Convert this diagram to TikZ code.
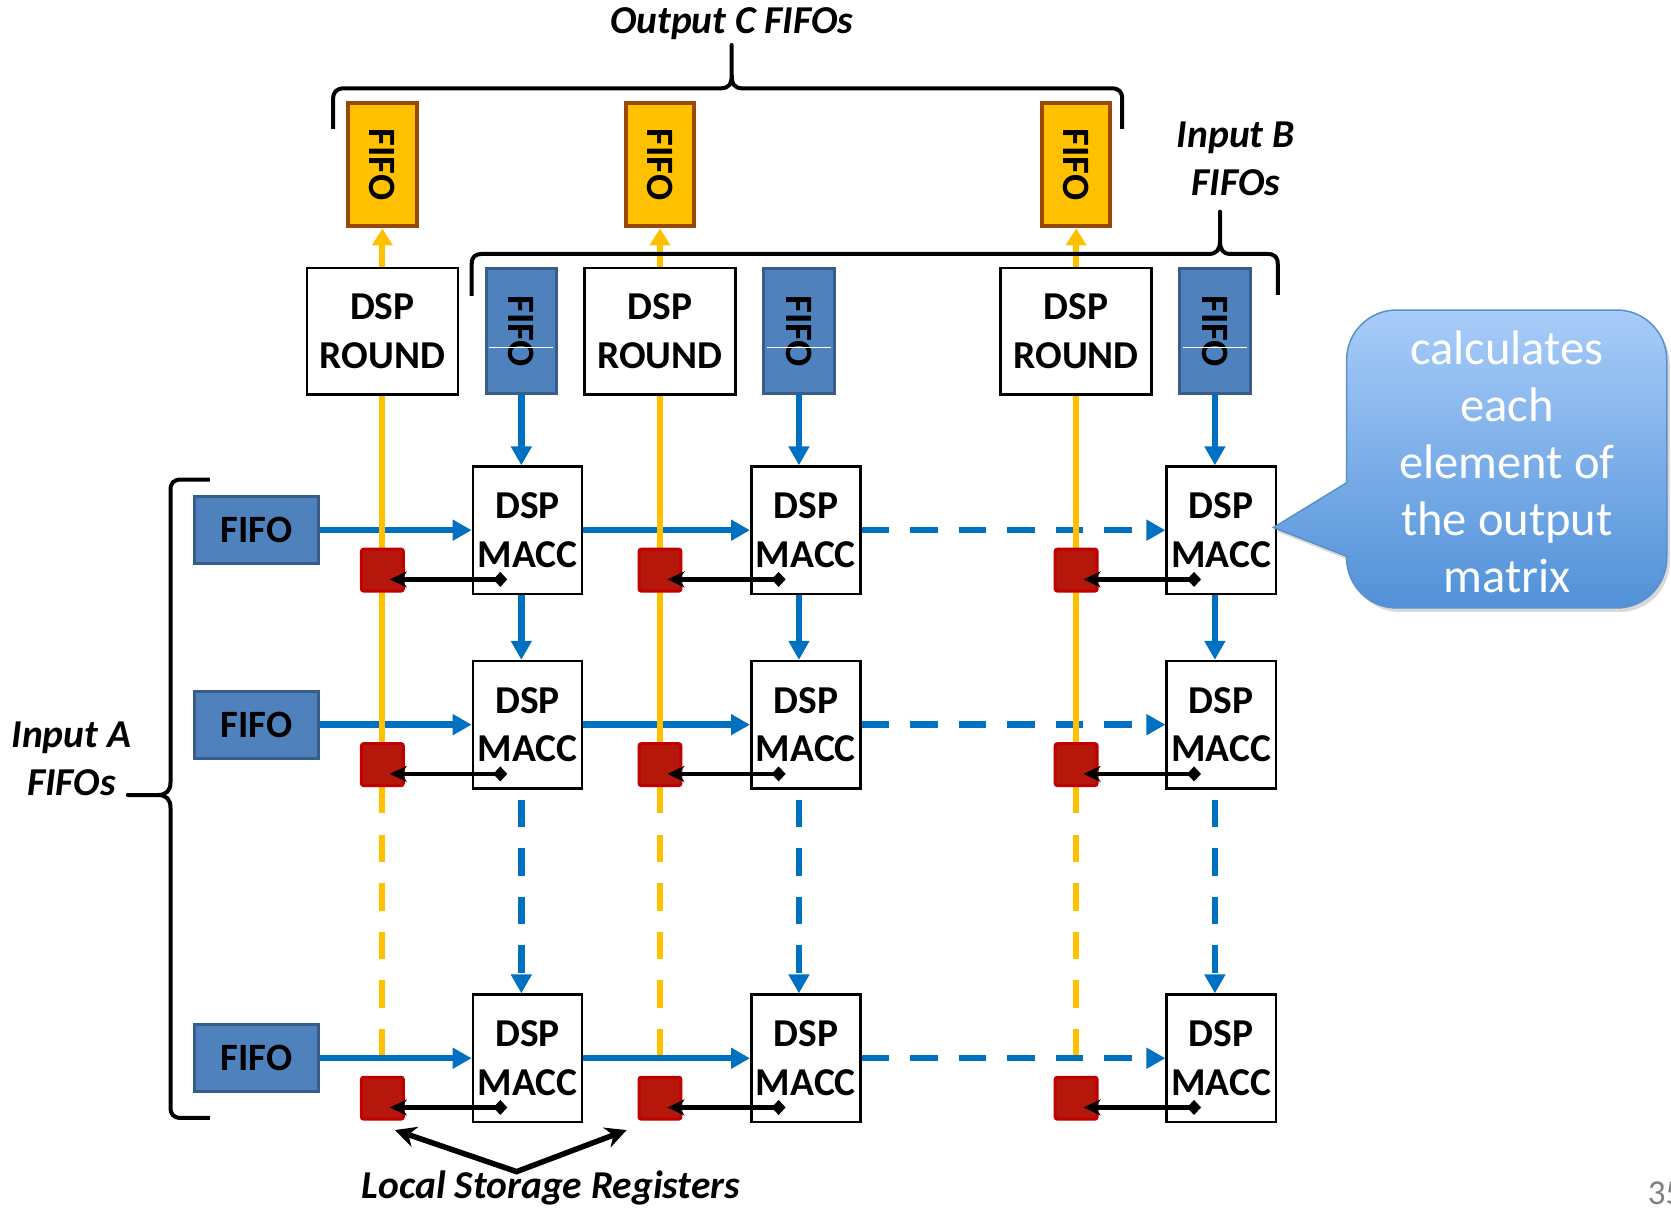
\documentclass[tikz,border=0pt]{standalone}
\usepackage{fontspec}
\setmainfont{Carlito}
\usepackage{graphicx}
\usetikzlibrary{arrows.meta,calc,shadows}

\definecolor{ofill}{HTML}{FFC000}
\definecolor{oedge}{HTML}{984807}
\definecolor{bfill}{HTML}{4F81BD}
\definecolor{bedge}{HTML}{385D8A}
\definecolor{bline}{HTML}{0070C0}
\definecolor{rfill}{HTML}{B5170B}
\definecolor{redge}{HTML}{C00000}
\definecolor{ctop}{HTML}{A8CCF9}
\definecolor{cbot}{HTML}{5191D8}
\definecolor{cedge}{HTML}{5A8FCC}
\definecolor{pagenum}{HTML}{7F7F7F}

\pgfdeclarelayer{blueL}
\pgfdeclarelayer{orangeL}
\pgfsetlayers{blueL,orangeL,main}

\begin{document}
\begin{tikzpicture}[x=1.0657pt, y=-1.0657pt,
  boxfont/.style={font=\fontsize{39.5}{48.5}\selectfont\bfseries},
  dspbox/.style={draw=black, line width=2.5pt, fill=white, align=center, inner sep=0pt, boxfont},
  maccbox/.style={dspbox, minimum width=109.2pt, minimum height=127.2pt},
  roundbox/.style={dspbox, minimum width=151pt, minimum height=126.5pt},
  fifofont/.style={font=\fontsize{38.7}{46}\selectfont\bfseries},
  ofifo/.style={draw=oedge, fill=ofill, line width=4pt, inner sep=0pt,
    minimum width=68.5pt, minimum height=123.8pt, fifofont},
  bfifo/.style={draw=bedge, fill=bfill, line width=3pt, inner sep=0pt,
    minimum width=70.3pt, minimum height=124.7pt, fifofont},
  afifo/.style={draw=bedge, fill=bfill, line width=3pt, inner sep=0pt,
    minimum width=123.8pt, minimum height=67.3pt, fifofont},
  regbox/.style={draw=redge, fill=rfill, line width=3pt, rounded corners=2pt,
    minimum size=41.8pt, inner sep=0pt},
  bflow/.style={draw=bline, line width=6.5pt, -{Triangle[width=20pt,length=19pt]}},
  oflow/.style={draw=ofill, line width=6pt},
  dashpat/.style={dash pattern=on 27.5pt off 21pt},
  regarrow/.style={draw=black, line width=4.5pt,
    {Diamond[width=15pt,length=14pt]}-{Stealth[length=17pt,width=16pt]}, shorten >=7.5pt},
  lsarrow/.style={draw=black, line width=5.5pt, line join=miter,
    {Stealth[length=21pt,width=21pt]}-{Stealth[length=21pt,width=21pt]}},
  brace/.style={draw=black, line width=4pt, line join=round},
  lbl/.style={font=\fontsize{39.5}{48}\selectfont\bfseries\itshape}
]
\useasboundingbox (0,0) rectangle (1568,1134);

% columns: output FIFO / ROUND / register column, input B FIFO column, MACC column
\foreach \i/\ox/\bx/\mx in {1/358.8/489.2/495, 2/619.3/749.7/756.2, 3/1009.8/1140/1146} {
  \node[ofifo] (oc\i) at (\ox,154.4) {\rotatebox{-90}{FIFO}};
  \node[roundbox] (rd\i) at (\ox,310.75) {DSP\\ROUND};
  \node[bfifo] (ib\i) at (\bx,310.8) {\rotatebox{-90}{FIFO}};
  \draw[white, line width=1pt] ($(ib\i.center)+(-30,15.2)$) -- ($(ib\i.center)+(30,15.2)$);
  \foreach \j/\my in {1/497.5, 2/680, 3/993} {
    \node[maccbox] (m\j\i) at (\mx,\my) {DSP\\MACC};
    \node[regbox] (r\j\i) at (\ox,\my+37.5) {};
  }
}

% input A FIFOs
\foreach \j/\my in {1/497.5, 2/680, 3/993} {
  \node[afifo] (ia\j) at (240.5,\my) {FIFO};
}

% A operands flowing right, B operands flowing down
\begin{pgfonlayer}{blueL}
  \foreach \j in {1,2,3} {
    \draw[bflow] (ia\j.east) -- (m\j1.west);
    \draw[bflow] (m\j1.east) -- (m\j2.west);
    \draw[bflow, dashpat] (m\j2.east) -- (m\j3.west);
  }
  \foreach \i in {1,2,3} {
    \draw[bflow] (ib\i.south) -- (ib\i.south |- m1\i.north);
    \draw[bflow] (ib\i.south |- m1\i.south) -- (ib\i.south |- m2\i.north);
    \draw[bflow, dashpat] ($(ib\i.south |- m2\i.south)+(0,9.4)$) -- (ib\i.south |- m3\i.north);
  }
\end{pgfonlayer}

% results collected upwards through the ROUND stages
\begin{pgfonlayer}{orangeL}
  \foreach \i in {1,2,3} {
    \draw[oflow, -{Triangle[width=20pt,length=17pt]}] (rd\i.north) -- (oc\i.south);
    \draw[oflow] (rd\i.south) -- ($(r2\i.south)+(0,24.5)$);
    \draw[oflow, dashpat] ($(r2\i.south)+(0,45)$) -- ($(r2\i.center |- m3\i.center)+(0,-2.8)$);
  }
\end{pgfonlayer}

% MACC outputs into the local registers
\foreach \i in {1,2,3} {
  \foreach \j in {1,2,3} {
    \coordinate (t\j\i) at ($(m\j\i.center)+(-19,46.2)$);
    \draw[regarrow] (t\j\i) -- (t\j\i -| r\j\i.center);
  }
}

% braces
\draw[brace] (312.6,121) -- (312.6,93) .. controls (312.6,86) and (316,82.9) .. (323,82.9)
  -- (676,82.9) .. controls (684,82.9) and (686.6,79) .. (686.6,70) -- (686.6,42.2)
  -- (686.6,70) .. controls (686.6,79) and (689,82.9) .. (697,82.9)
  -- (1043,82.9) .. controls (1050,82.9) and (1053,86) .. (1053,93) -- (1053,121);
\draw[brace] (442.6,277.7) -- (442.6,248) .. controls (442.6,241) and (446,238.3) .. (452,238.3)
  -- (1134,238.3) .. controls (1142,238.3) and (1144.8,234) .. (1144.8,226) -- (1144.8,198.6)
  -- (1144.8,226) .. controls (1144.8,234) and (1147,238.3) .. (1155,238.3)
  -- (1189,238.3) .. controls (1196,238.3) and (1199,241) .. (1199,248) -- (1199,276.8);
\draw[brace] (197,450) -- (170,450) .. controls (163,450) and (160,453) .. (160,460)
  -- (160,734) .. controls (160,742) and (156,746) .. (148,746) -- (120,746)
  -- (148,746) .. controls (156,746) and (160,750) .. (160,758)
  -- (160,1039) .. controls (160,1046) and (163,1049) .. (170,1049) -- (197,1049);

% labels
\node[lbl, anchor=base] (outc) at (686.6,31.3) {Output C FIFOs};
\node[lbl, align=center] (inb) at (1159.6,149) {Input B\\FIFOs};
\node[lbl, align=center] (ina) at (67,712) {Input A\\FIFOs};
\node[lbl, anchor=base] (lsr) at (517,1125) {Local Storage Registers};

\coordinate (lsj) at (484.8,1099.4);
\coordinate (lsl) at (370.6,1060.4);
\coordinate (lsrr) at (588,1060.4);
\draw[lsarrow] (lsl) -- (lsj) -- (lsrr);

% callout
\path[draw=cedge, line width=1.5pt, top color=ctop, bottom color=cbot,
  drop shadow={shadow xshift=3pt, shadow yshift=-4pt, opacity=0.3}]
  (1263.6,453) -- (1263.6,337.9) .. controls (1263.6,311.9) and (1284.6,290.9) .. (1310.6,290.9)
  -- (1517,290.9) .. controls (1543,290.9) and (1564,311.9) .. (1564,337.9)
  -- (1564,523.5) .. controls (1564,549.5) and (1543,570.5) .. (1517,570.5)
  -- (1310.6,570.5) .. controls (1284.6,570.5) and (1263.6,549.5) .. (1263.6,523.5)
  -- (1263.6,522) -- (1195,495) -- cycle;
\node[font=\fontsize{48.6}{57}\selectfont, text=white, align=center] (note) at (1414,433)
  {calculates\\each\\element of\\the output\\matrix};

\node[font=\fontsize{35}{40}\selectfont, text=pagenum, anchor=base west] (pg) at (1543,1130.7) {35};
\end{tikzpicture}
\end{document}
